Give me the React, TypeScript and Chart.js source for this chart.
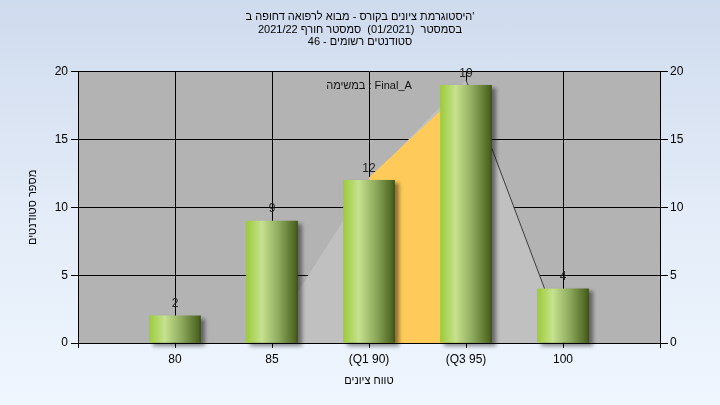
import React, { useEffect, useRef } from "react";
import { Chart, registerables } from "chart.js";

Chart.register(...registerables);

// ---- data ----
const categories: string[] = ["80", "85", "(Q1 90)", "(Q3 95)", "100"];
const counts: number[] = [2, 9, 12, 19, 4];
const barPositions: number[] = [1, 2, 3, 4, 5];

// background distribution polygon (light gray)
const curvePositions: number[] = [1.93, 3, 4, 5];
const curveValues: number[] = [0, 12, 19.4, 0.4];

// inter-quartile band (orange)
const iqrPositions: number[] = [3, 4];
const iqrValues: number[] = [12.2, 18.9];

// dark edge of the distribution
const edgePositions: number[] = [4, 5];
const edgeValues: number[] = [19.4, 0.4];

const yTicks: number[] = [0, 5, 10, 15, 20];

const titleLines: string[] = [
  "היסטוגרמת ציונים בקורס - מבוא לרפואה דחופה ב'",
  "בסמסטר  (01/2021)  סמסטר חורף 2021/22",
  "סטודנטים רשומים - 46",
];
const seriesLabel = "במשימה : Final_A";
const xTitle = "טווח ציונים";
const yTitle = "מספר סטודנטים";

const FONT = "'Liberation Sans', 'DejaVu Sans', Arial, sans-serif";

const plotBackground = {
  id: "plotBackground",
  beforeDraw(chart: any) {
    const { ctx, chartArea: a } = chart;
    ctx.save();
    ctx.fillStyle = "#b3b3b3";
    ctx.fillRect(a.left, a.top, a.right - a.left, a.bottom - a.top);
    ctx.restore();
  },
};

const barShadow = {
  id: "barShadow",
  beforeDatasetDraw(chart: any, args: any) {
    if (args.index === 0) {
      const c = chart.ctx;
      c.save();
      c.shadowColor = "rgba(0,0,0,0.45)";
      c.shadowBlur = 4;
      c.shadowOffsetX = 4;
      c.shadowOffsetY = 3;
    }
  },
  afterDatasetDraw(chart: any, args: any) {
    if (args.index === 0) chart.ctx.restore();
  },
};

const valueLabels = {
  id: "valueLabels",
  afterDatasetsDraw(chart: any) {
    const c = chart.ctx;
    const meta = chart.getDatasetMeta(0);
    c.save();
    c.font = `12px ${FONT}`;
    c.fillStyle = "#222";
    c.textAlign = "center";
    c.textBaseline = "middle";
    meta.data.forEach((el: any, i: number) => {
      c.fillText(String(counts[i]), el.x, el.y - 12);
    });
    // series caption
    const area = chart.chartArea;
    c.font = `11px ${FONT}`;
    c.fillStyle = "#111";
    c.fillText(seriesLabel, (area.left + area.right) / 2, area.top + 14);
    c.restore();
  },
};

export default function App() {
  const ref = useRef<HTMLCanvasElement | null>(null);

  useEffect(() => {
    if (!ref.current) return;
    Chart.defaults.font.family = FONT;
    Chart.defaults.font.size = 12;
    Chart.defaults.color = "#000";

    const chart = new Chart(ref.current, {
      type: "bar",
      data: {
        datasets: [
          {
            type: "bar",
            data: counts.map((v, i) => ({ x: barPositions[i], y: v })),
            barThickness: 51,
            borderWidth: 0,
            clip: 10,
            backgroundColor: (ctx: any) => {
              const chart = ctx.chart;
              const xs = chart.scales && chart.scales.x;
              if (!xs || ctx.type !== "data") return "#9cc850";
              const cx = xs.getPixelForValue(barPositions[ctx.dataIndex]);
              if (!Number.isFinite(cx)) return "#9cc850";
              const g = chart.ctx.createLinearGradient(cx - 25.5, 0, cx + 25.5, 0);
              g.addColorStop(0, "#9dcb3b");
              g.addColorStop(0.3, "#c6e28f");
              g.addColorStop(0.65, "#8aa65a");
              g.addColorStop(0.97, "#4a621e");
              g.addColorStop(1, "#3a4c18");
              return g;
            },
          } as any,
          {
            type: "line",
            data: edgePositions.map((p, i) => ({ x: p, y: edgeValues[i] })),
            borderColor: "#3c3c3c",
            borderWidth: 1,
            pointRadius: 0,
            fill: false,
            tension: 0,
          } as any,
          {
            type: "line",
            data: iqrPositions.map((p, i) => ({ x: p, y: iqrValues[i] })),
            borderWidth: 0,
            borderColor: "rgba(0,0,0,0)",
            backgroundColor: "#fecb5a",
            pointRadius: 0,
            fill: "origin",
            tension: 0,
          } as any,
          {
            type: "line",
            data: curvePositions.map((p, i) => ({ x: p, y: curveValues[i] })),
            borderWidth: 0,
            borderColor: "rgba(0,0,0,0)",
            backgroundColor: "#c0c0c0",
            pointRadius: 0,
            fill: "origin",
            tension: 0,
          } as any,
        ],
      },
      options: {
        animation: false,
        responsive: false,
        devicePixelRatio: 1,
        layout: { padding: 0 },
        plugins: {
          legend: { display: false },
          tooltip: { enabled: false },
          title: {
            display: true,
            text: titleLines,
            color: "#000",
            font: { size: 11, weight: "normal", lineHeight: 1.14 },
            padding: { top: 10.7, bottom: 23.5 },
          },
        },
        scales: {
          x: {
            type: "linear",
            offset: false,
            min: 0,
            max: 6,
            afterBuildTicks: (scale: any) => {
              scale.ticks = [0, 1, 2, 3, 4, 5, 6].map((v) => ({ value: v }));
            },
            ticks: {
              stepSize: 1,
              padding: 4,
              color: "#000",
              font: { size: 12 },
              callback: (v: any) => categories[Number(v) - 1] ?? "",
            },
            grid: { color: "#000", lineWidth: 1, tickLength: 5, offset: false },
            border: { color: "#000" },
            title: {
              display: true,
              text: xTitle,
              color: "#000",
              font: { size: 11 },
              padding: { top: 4, bottom: 17 },
            },
            afterFit: (scale: any) => {
              scale.height = 62;
            },
          } as any,
          y: {
            type: "linear",
            position: "left",
            min: 0,
            max: 20,
            afterBuildTicks: (scale: any) => {
              scale.ticks = yTicks.map((v) => ({ value: v }));
            },
            ticks: { padding: 3, color: "#000", font: { size: 12 } },
            grid: { color: "#000", lineWidth: 1, tickLength: 7 },
            border: { color: "#000" },
            title: {
              display: true,
              text: yTitle,
              color: "#000",
              font: { size: 11 },
              padding: { top: 26, bottom: 4 },
            },
            afterFit: (scale: any) => {
              scale.width = 78;
            },
          } as any,
          y2: {
            type: "linear",
            position: "right",
            min: 0,
            max: 20,
            afterBuildTicks: (scale: any) => {
              scale.ticks = yTicks.map((v) => ({ value: v }));
            },
            ticks: { padding: 2, color: "#000", font: { size: 12 } },
            grid: { color: "#000", drawOnChartArea: false, tickLength: 8 },
            border: { color: "#000" },
            afterFit: (scale: any) => {
              scale.width = 60;
            },
          } as any,
        },
      } as any,
      plugins: [plotBackground, barShadow, valueLabels],
    });
    return () => chart.destroy();
  }, []);

  return (
    <div
      style={{
        position: "fixed",
        left: 0,
        top: 0,
        width: 720,
        height: 405,
        background: "linear-gradient(to bottom, #cfdbee 0%, #e2ebf7 50%, #eff6fe 100%)",
      }}
    >
      <canvas ref={ref} width={720} height={405} style={{ display: "block" }} />
    </div>
  );
}
